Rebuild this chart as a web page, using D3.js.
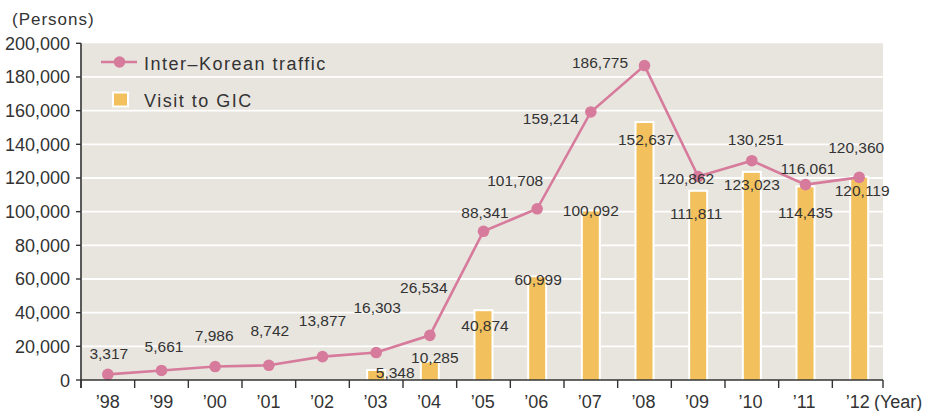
<!DOCTYPE html>
<html><head><meta charset="utf-8">
<script src="https://cdn.jsdelivr.net/npm/d3@7/dist/d3.min.js"></script>
<style>
html,body{margin:0;padding:0;background:#fff;}
svg{display:block;font-family:"Liberation Sans",Arial,sans-serif;}
</style></head>
<body><svg id="c" width="926" height="411"></svg>
<script>
const years = ["’98","’99","’00","’01","’02","’03","’04","’05","’06","’07","’08","’09","’10","’11","’12"];
const interKoreanTraffic = [3317,5661,7986,8742,13877,16303,26534,88341,101708,159214,186775,120862,130251,116061,120360];
const visitToGIC = [null,null,null,null,null,5348,10285,40874,60999,100092,152637,111811,123023,114435,120119];
const yTicks = [0,20000,40000,60000,80000,100000,120000,140000,160000,180000,200000];
const seriesNames = ["Inter–Korean traffic","Visit to GIC"];
const yUnit = "(Persons)", xUnit = "(Year)";
// annotation nudges (px) for value labels
const trafficLabelNudge = [[1,-15],[2.5,-18.5],[-1,-25.5],[1,-29],[0,-31],[1,-40],[-6,-42],[1.5,-13],[-22,-23],[-40,12],[-44.5,2.4],[-12,7.5],[4,-16],[2.5,-10.6],[-3,-24]];
const gicLabelNudge = [null,null,null,null,null,[19,7],[5,0],[1.5,20],[1,8],[0,4.5],[1.5,22],[-2,27],[0,17],[0,31],[3,18]];

const svg = d3.select("#c");
const L = 81, R = 883, T = 43.3, B = 380;
const x = d3.scaleBand().domain(years).range([L, 886]).padding(0);
const xl = d3.scaleBand().domain(years).range([L, R]).padding(0);
const y = d3.scaleLinear().domain([0,200000]).range([B, T]);
const fmt = d3.format(",");
const pink = "#d77b9c", gold = "#f2c15d", txt = "#333";

svg.append("rect").attr("x",L).attr("y",T).attr("width",R-L).attr("height",B-T).attr("fill","#e8e5df");
svg.append("g").selectAll("line").data(yTicks.filter(d=>d>0 && d<200000)).join("line")
  .attr("x1",L).attr("x2",R).attr("y1",d=>y(d)).attr("y2",d=>y(d))
  .attr("stroke","#fff").attr("stroke-width",1.8);

// bars
const bars = visitToGIC.map((v,i)=>({v,i})).filter(d=>d.v!=null);
const bw = 16;
svg.append("g").selectAll("rect").data(bars).join("rect")
  .attr("x",d=>x(years[d.i])+x.bandwidth()/2-bw/2-2).attr("y",d=>y(d.v)-2)
  .attr("width",bw+4).attr("height",d=>B-y(d.v)+2).attr("fill","#fff");
svg.append("g").selectAll("rect").data(bars).join("rect")
  .attr("x",d=>x(years[d.i])+x.bandwidth()/2-bw/2).attr("y",d=>y(d.v))
  .attr("width",bw).attr("height",d=>B-y(d.v)).attr("fill",gold);

// line
const cx = i => x(years[i])+x.bandwidth()/2;
svg.append("path").datum(interKoreanTraffic)
  .attr("d", d3.line().x((d,i)=>cx(i)).y(d=>y(d)))
  .attr("fill","none").attr("stroke",pink).attr("stroke-width",2.6);
svg.append("g").selectAll("circle").data(interKoreanTraffic).join("circle")
  .attr("cx",(d,i)=>cx(i)).attr("cy",d=>y(d)).attr("r",5.8).attr("fill",pink);

// value labels
svg.append("g").selectAll("text").data(bars).join("text")
  .attr("x",d=>cx(d.i)+gicLabelNudge[d.i][0]).attr("y",d=>y(d.v)+gicLabelNudge[d.i][1])
  .attr("text-anchor","middle").attr("font-size",15.5).attr("fill",txt).text(d=>fmt(d.v));
svg.append("g").selectAll("text").data(interKoreanTraffic).join("text")
  .attr("x",(d,i)=>cx(i)+trafficLabelNudge[i][0]).attr("y",(d,i)=>y(d)+trafficLabelNudge[i][1])
  .attr("text-anchor","middle").attr("font-size",15.5).attr("fill",txt).text(d=>fmt(d));

// y axis
const gy = svg.append("g");
gy.append("line").attr("x1",L).attr("x2",L).attr("y1",T).attr("y2",B+8).attr("stroke","#333").attr("stroke-width",1.6);
gy.selectAll("line.t").data(yTicks).join("line").attr("class","t")
  .attr("x1",L-5).attr("x2",L).attr("y1",d=>y(d)).attr("y2",d=>y(d)).attr("stroke","#333").attr("stroke-width",1.4);
gy.selectAll("text").data(yTicks).join("text")
  .attr("x",70).attr("y",d=>y(d)+6.5).attr("text-anchor","end").attr("font-size",18).attr("fill",txt).text(d=>fmt(d));
svg.append("text").attr("x",12).attr("y",25).attr("font-size",17).attr("letter-spacing",1).attr("fill",txt).text(yUnit);

// x axis
const gx = svg.append("g");
gx.append("line").attr("x1",L).attr("x2",R).attr("y1",B).attr("y2",B).attr("stroke","#333").attr("stroke-width",1.6);
const bounds = years.map(d=>x(d)).concat([R]);
gx.selectAll("line.t").data(bounds).join("line").attr("class","t")
  .attr("x1",d=>Math.min(d,R)).attr("x2",d=>Math.min(d,R)).attr("y1",B).attr("y2",B+8).attr("stroke","#333").attr("stroke-width",1.4);
gx.selectAll("text").data(years).join("text")
  .attr("x",d=>xl(d)+xl.bandwidth()/2+ (x(d)-xl(d))/2).attr("y",408).attr("text-anchor","middle").attr("font-size",18).attr("fill",txt).text(d=>d);
svg.append("text").attr("x",874).attr("y",408).attr("font-size",18).attr("fill",txt).text(xUnit);

// legend
const lg = svg.append("g");
lg.append("line").attr("x1",101).attr("x2",137).attr("y1",62).attr("y2",62).attr("stroke",pink).attr("stroke-width",2.6);
lg.append("circle").attr("cx",119.5).attr("cy",62).attr("r",5.8).attr("fill",pink);
lg.append("text").attr("x",144).attr("y",70).attr("font-size",18).attr("letter-spacing",1.5).attr("fill",txt).text(seriesNames[0]);
lg.append("rect").attr("x",113).attr("y",92.5).attr("width",15).attr("height",14).attr("fill",gold).attr("stroke","#fff").attr("stroke-width",2);
lg.append("text").attr("x",144).attr("y",106.5).attr("font-size",18).attr("letter-spacing",1.5).attr("fill",txt).text(seriesNames[1]);
</script></body></html>
